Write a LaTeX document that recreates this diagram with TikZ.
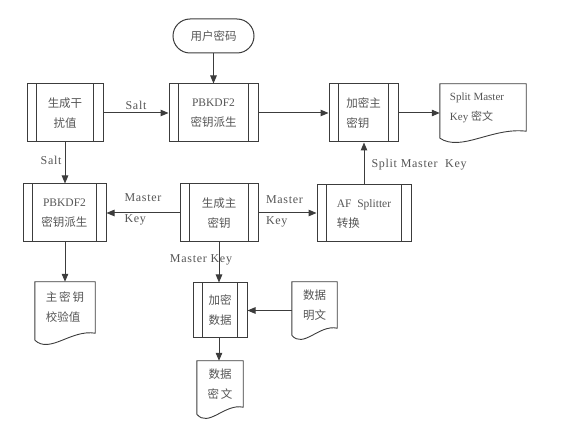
\documentclass[tikz,border=0pt]{standalone}
\usepackage{fontspec}
\setmainfont{Liberation Serif}
\newfontfamily\cjk{Noto Sans CJK SC}
\newfontfamily\lblfont{Liberation Serif}[LetterSpace=6]
\usetikzlibrary{arrows.meta,calc,shapes.misc}
\definecolor{lc}{HTML}{3C3C3C}
\definecolor{tc}{HTML}{555555}
\newcommand\zhtxt[1]{{\cjk #1}}
\newcommand\docout[1]{%
  \draw[docline] ($(#1.south west)+(0,7)$) -- (#1.north west) -- (#1.north east) -- (#1.south east)
    .. controls ($(#1.south west)!0.6!(#1.south east)+(0,-4)$) and ($(#1.south west)!0.25!(#1.south east)+(0,21)$) .. ($(#1.south west)+(0,7)$);}
\begin{document}
\begin{tikzpicture}[x=1pt,y=-1pt,
  every node/.style={text=tc, inner sep=0pt, font=\fontsize{11.5}{20}\selectfont},
  proc/.style={draw=lc, line width=1pt, align=center,
    path picture={\draw[lc,line width=0.9pt]
      ([xshift=9.5pt]path picture bounding box.north west) -- ([xshift=9.5pt]path picture bounding box.south west)
      ([xshift=-9.5pt]path picture bounding box.north east) -- ([xshift=-9.5pt]path picture bounding box.south east);}},
  term/.style={draw=lc, line width=1pt, rounded rectangle},
  docnode/.style={align=center},
  docline/.style={draw=lc, line width=0.9pt},
  arr/.style={draw=lc, line width=1pt, -{Triangle[length=8pt,width=6.5pt]}},
  lbl/.style={font=\lblfont\fontsize{12}{21}\selectfont, text=tc, align=left}
]
\useasboundingbox (0,0) rectangle (566,433);

% nodes
\node[term, minimum width=81pt, minimum height=34pt] (pwd) at (213.5,36) {\zhtxt{用户密码}};
\node[proc, minimum width=76pt, minimum height=58pt] (gen) at (65,113) {\zhtxt{生成干}\\\zhtxt{扰值}};
\node[proc, minimum width=89pt, minimum height=58pt] (pb1) at (213.5,113) {PBKDF2\\\zhtxt{密钥派生}};
\node[proc, minimum width=69pt, minimum height=58pt, align=left] (encm) at (363.5,113) {\zhtxt{加密主}\\\zhtxt{密钥}};
\node[docnode, minimum width=86pt, minimum height=47pt, align=left, font=\fontsize{11}{20}\selectfont] (smk) at (483,107.5) {Split Master\hspace*{12pt}\\Key \zhtxt{密文}};
\node[proc, minimum width=83pt, minimum height=58pt] (pb2) at (64.5,213) {PBKDF2\\\zhtxt{密钥派生}};
\node[proc, minimum width=78pt, minimum height=58pt] (genm) at (219,213) {\zhtxt{生成主}\\\zhtxt{密钥}};
\node[proc, minimum width=94pt, minimum height=57pt, align=left] (af) at (364,213.5) {AF\ \ Splitter\\\zhtxt{转换}};
\node[proc, minimum width=54pt, minimum height=55pt] (encd) at (220,310.5) {\zhtxt{加密}\\\zhtxt{数据}};
\node[docnode, minimum width=45pt, minimum height=46pt] (mingwen) at (314.5,305) {\zhtxt{数据}\\\zhtxt{明文}};
\node[docnode, minimum width=46pt, minimum height=46pt] (miwen) at (220,384) {\zhtxt{数据}\\\zhtxt{密\,文}};
\node[docnode, minimum width=60pt, minimum height=51pt, align=left] (check) at (65,307.5) {\zhtxt{主\,密\,钥}\\\zhtxt{校验值}};

\docout{smk}
\docout{mingwen}
\docout{miwen}
\docout{check}

% connectors
\draw[arr] (pwd.south) -- (pb1.north -| pwd.south);
\draw[arr] (gen.east) -- node[lbl, above, yshift=3pt] {Salt} (pb1.west);
\draw[arr] (pb1.east) -- (encm.west);
\draw[arr] (encm.east) -- (smk.west |- encm.east);
\draw[arr] (gen.south) -- node[lbl, left, xshift=-3pt, yshift=3pt] {Salt} (pb2.north -| gen.south);
\draw[arr] (genm.west) -- node[lbl, yshift=4pt] {Master\\Key} (pb2.east |- genm.west);
\draw[arr] (genm.east) -- node[lbl, xshift=-3pt, yshift=2pt] {Master\\Key} (af.west |- genm.east);
\draw[arr] (af.north) -- node[lbl, right, xshift=7pt, yshift=-1pt] {Split Master\ \ Key} (encm.south -| af.north);
\draw[arr] (genm.south) -- node[lbl, xshift=-18pt, yshift=3pt] {Master Key} (encd.north -| genm.south);
\draw[arr] (mingwen.west |- encd.east) -- (encd.east);
\draw[arr] (encd.south -| genm.south) -- (miwen.north -| genm.south);
\draw[arr] (pb2.south -| gen.south) -- (check.north -| gen.south);
\end{tikzpicture}
\end{document}
